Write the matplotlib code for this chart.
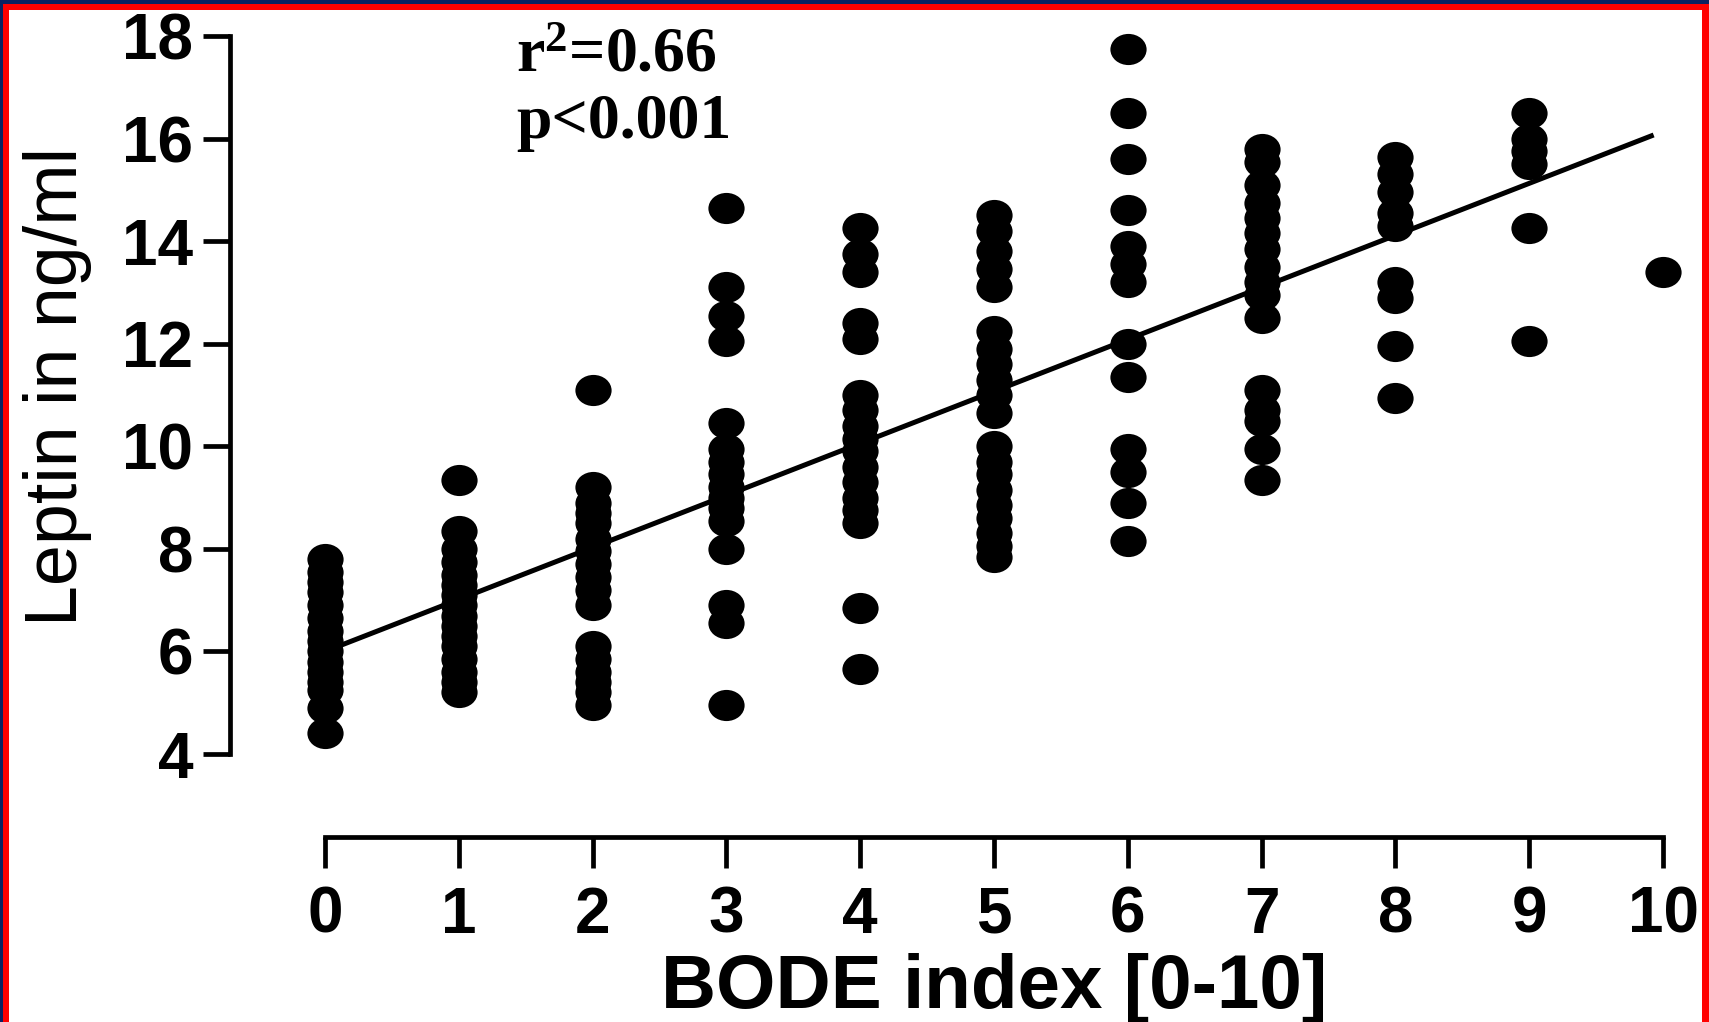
import numpy as np
import matplotlib
matplotlib.use("Agg")
import matplotlib.pyplot as plt
from matplotlib.path import Path
from matplotlib.patches import Rectangle
from matplotlib import font_manager

# ---------------- data ----------------
bode_levels = [0, 1, 2, 3, 4, 5, 6, 7, 8, 9, 10]
leptin_0 = [7.8, 7.55, 7.35, 7.15, 6.9, 6.65, 6.4, 6.2, 6.0, 5.8, 5.6, 5.4, 5.25, 4.9, 4.4]
leptin_1 = [9.35, 8.35, 8.0, 7.75, 7.5, 7.3, 7.1, 6.9, 6.7, 6.5, 6.3, 6.1, 5.85, 5.6, 5.4, 5.2]
leptin_2 = [11.1, 9.2, 8.9, 8.7, 8.5, 8.2, 7.95, 7.7, 7.45, 7.2, 6.9, 6.1, 5.85, 5.6, 5.4, 5.2, 4.95]
leptin_3 = [14.65, 13.1, 12.55, 12.05, 10.45, 9.95, 9.7, 9.45, 9.2, 9.0, 8.8, 8.55, 8.0, 6.9, 6.55, 4.95]
leptin_4 = [14.25, 13.75, 13.4, 12.4, 12.1, 11.0, 10.7, 10.4, 10.15, 9.9, 9.6, 9.3, 9.0, 8.75, 8.5, 6.85, 5.65]
leptin_5 = [14.5, 14.2, 13.8, 13.45, 13.1, 12.25, 11.9, 11.6, 11.3, 11.0, 10.65, 10.0, 9.7, 9.45,
            9.15, 8.85, 8.6, 8.3, 8.05, 7.85]
leptin_6 = [17.75, 16.5, 15.6, 14.6, 13.9, 13.55, 13.2, 12.0, 11.35, 9.95, 9.5, 8.9, 8.15]
leptin_7 = [15.8, 15.55, 15.1, 14.75, 14.45, 14.15, 13.85, 13.5, 13.2, 12.95, 12.5, 11.1, 10.7,
            10.5, 9.95, 9.35]
leptin_8 = [15.65, 15.3, 14.95, 14.55, 14.3, 13.2, 12.9, 11.95, 10.95]
leptin_9 = [16.5, 16.0, 15.75, 15.5, 14.25, 12.05]
leptin_10 = [13.4]
leptin_by_level = [leptin_0, leptin_1, leptin_2, leptin_3, leptin_4, leptin_5,
                   leptin_6, leptin_7, leptin_8, leptin_9, leptin_10]

fit_x = [0.0, 9.93]
fit_y = [6.0, 16.07]

x_ticks = [0, 1, 2, 3, 4, 5, 6, 7, 8, 9, 10]
y_ticks = [4, 6, 8, 10, 12, 14, 16, 18]
x_label = "BODE index [0-10]"
y_label = "Leptin in ng/ml"
stats_text = ["r$^{2}$=0.66", "p<0.001"]

# ---------------- figure ----------------
plt.rcParams["mathtext.fontset"] = "custom"
plt.rcParams["mathtext.rm"] = "Liberation Serif:bold"
plt.rcParams["mathtext.bf"] = "Liberation Serif:bold"
plt.rcParams["mathtext.it"] = "Liberation Serif:bold"

W, H = 1709, 1022
fig = plt.figure(figsize=(W / 100, H / 100), dpi=100)
fig.patch.set_facecolor("white")

def fx(px):
    return px / W

def fy(py):
    return 1 - py / H

ax_left, ax_right = 325, 1663
ax_top, ax_bottom = 36, 754
ax = fig.add_axes([fx(ax_left), fy(ax_bottom), (ax_right - ax_left) / W, (ax_bottom - ax_top) / H])
ax.set_facecolor("none")

# slightly flattened round marker, as in the reference
circ = Path.unit_circle()
ell = Path(circ.vertices * np.array([1.0, 0.86]), circ.codes)

xs = []
ys = []
for lvl, vals in zip(bode_levels, leptin_by_level):
    xs.extend([lvl] * len(vals))
    ys.extend(vals)
ax.scatter(xs, ys, marker=ell, s=680, color="black", linewidths=0, clip_on=False, zorder=3)

ax.plot(fit_x, fit_y, color="black", lw=3.6, solid_capstyle="butt", clip_on=False, zorder=4)

ax.set_xlim(0, 10)
ax.set_ylim(4, 18)
ax.set_xticks(x_ticks)
ax.set_yticks(y_ticks)

for s in ["top", "right"]:
    ax.spines[s].set_visible(False)
ax.spines["left"].set_position(("outward", (ax_left - 230) * 0.72))
ax.spines["bottom"].set_position(("outward", (837 - ax_bottom) * 0.72))
ax.spines["left"].set_bounds(4, 18)
ax.spines["bottom"].set_bounds(0, 10)
for s in ["left", "bottom"]:
    ax.spines[s].set_linewidth(3.4)
    ax.spines[s].set_capstyle("projecting")

ax.tick_params(axis="y", direction="out", length=19.5, width=3.4, pad=7, labelsize=46)
ax.tick_params(axis="x", direction="out", length=22, width=3.4, pad=13, labelsize=46)
for lab in ax.get_xticklabels() + ax.get_yticklabels():
    lab.set_fontfamily(["Liberation Sans", "DejaVu Sans"])
    lab.set_fontweight("bold")

# axis labels
ax.set_xlabel(x_label, fontsize=55, fontweight="bold", family=["Liberation Sans", "DejaVu Sans"])
ax.xaxis.label.set_va("baseline")
ax.xaxis.set_label_coords(0.5, -(1008 - ax_bottom) / (ax_bottom - ax_top))

names = {f.name for f in font_manager.fontManager.ttflist}
if "Liberation Sans Narrow" in names:
    yfam, ysize = ["Liberation Sans Narrow", "DejaVu Sans"], 60
else:
    yfam, ysize = ["Liberation Sans", "DejaVu Sans"], 53
ax.set_ylabel(y_label, fontsize=ysize, family=yfam, rotation=90)
ax.yaxis.label.set_rotation_mode("anchor")
ax.yaxis.label.set_va("baseline")
ax.yaxis.label.set_ha("center")
ax.yaxis.set_label_coords(-(ax_left - 77) / (ax_right - ax_left), (ax_bottom - 386) / (ax_bottom - ax_top))

# statistics annotation
for txt, base in zip(stats_text, [72, 138]):
    fig.text(fx(516), fy(base), txt, fontsize=46, fontweight="bold",
             family=["Liberation Serif", "DejaVu Serif"], ha="left", va="baseline")

# frame around the image: navy outer strip + red border
navy = "#0b2161"
red = "#ff0000"
fig.add_artist(Rectangle((0, fy(4)), 1, 4 / H, transform=fig.transFigure, color=navy, lw=0, zorder=10))
fig.add_artist(Rectangle((0, 0), fx(3), 1, transform=fig.transFigure, color=navy, lw=0, zorder=10))
fig.add_artist(Rectangle((fx(3), fy(10)), 1, 6 / H, transform=fig.transFigure, color=red, lw=0, zorder=10))
fig.add_artist(Rectangle((fx(3), 0), 6 / W, fy(4), transform=fig.transFigure, color=red, lw=0, zorder=10))
fig.add_artist(Rectangle((fx(1702), 0), 7 / W, fy(4), transform=fig.transFigure, color=red, lw=0, zorder=10))

fig.savefig("out.png", dpi=100, facecolor="white")
